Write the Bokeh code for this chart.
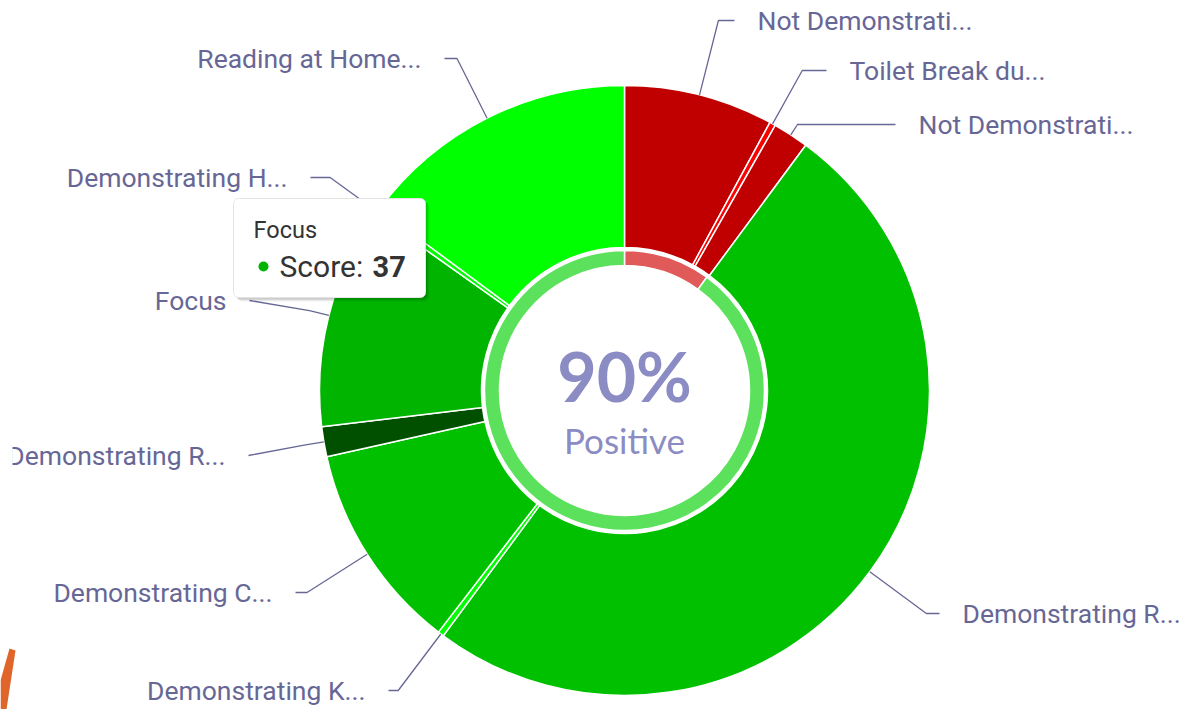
import numpy as np
from bokeh.plotting import figure
from bokeh.models import ColumnDataSource
from bokeh.core.properties import value
from bokeh.embed import file_html
from bokeh.resources import INLINE

# ---------------- data ----------------
categories = ["Not Demonstrati...", "Toilet Break du...", "Not Demonstrati...",
              "Demonstrating R...", "Demonstrating K...", "Demonstrating C...",
              "Demonstrating R...", "Focus", "Demonstrating H...", "Reading at Home..."]
scores = [25, 1, 6, 158, 1, 35, 5, 37, 1, 47]
slice_colors = ["#C00000", "#FF0000", "#C00000", "#00C000", "#00FF00",
                "#00C000", "#005000", "#00B400", "#00FF00", "#00FF00"]
ring_labels = ["Negative", "Positive"]
ring_values = [10, 90]
ring_colors = ["#E05A5A", "#5CE15C"]
center_value = "90%"
center_caption = "Positive"
tooltip_name = "Focus"
tooltip_score = 37

# ---------------- layout ----------------
W, H = 1183, 709
CX, CY = 624, H - 390
R_OUT, R_IN = 305, 143
RING_OUT, RING_IN = 140, 125
label_x_screen = [757, 849, 918, 962, 365, 272, 225, 226, 287, 421]
label_y_screen = [20, 70, 124, 613, 690, 592, 455, 300, 177, 58]
GAP = 23
LABEL_COLOR = "#676796"

p = figure(width=W, height=H, x_range=(0, W), y_range=(0, H),
           output_backend="svg", toolbar_location=None, min_border=0)
p.axis.visible = False
p.grid.visible = False
p.outline_line_color = None
p.background_fill_color = "white"

# outer slices
vals = np.array(scores, dtype=float)
cum = np.cumsum(vals)
total = cum[-1]
th2 = cum / total * 360.0
th1 = np.concatenate([[0.0], th2[:-1]])
src = ColumnDataSource(dict(
    start=np.radians(90 - th2), end=np.radians(90 - th1),
    color=slice_colors, name=categories))
p.annular_wedge(x=CX, y=CY, inner_radius=R_IN, outer_radius=R_OUT,
                start_angle="start", end_angle="end", direction="anticlock",
                fill_color="color", line_color="white", line_width=1.5, source=src)

# inner ring
rv = np.array(ring_values, dtype=float)
rc = np.cumsum(rv)
r2 = rc / rc[-1] * 360.0
r1 = np.concatenate([[0.0], r2[:-1]])
rsrc = ColumnDataSource(dict(start=np.radians(90 - r2), end=np.radians(90 - r1),
                             color=ring_colors, name=ring_labels))
p.annular_wedge(x=CX, y=CY, inner_radius=RING_IN, outer_radius=RING_OUT,
                start_angle="start", end_angle="end", direction="anticlock",
                fill_color="color", line_color="white", line_width=1.5, source=rsrc)

# labels + connectors
mid = np.radians((th1 + th2) / 2)
xs, ys, tx, ty, al = [], [], [], [], []
for i, m in enumerate(mid):
    side = 1 if np.degrees(m) < 180 else -1
    ly = H - label_y_screen[i]
    lx = label_x_screen[i]
    d = np.array([np.sin(m), np.cos(m)])
    e = np.array([CX, CY]) + R_OUT * d
    if abs(d[1]) > 0.3:
        t = (ly - e[1]) / d[1]
        t = min(max(t, 6), 120)
    else:
        t = 20
    b = e + t * d
    end_x = lx - side * GAP
    xs.append([e[0], b[0], end_x])
    ys.append([e[1], b[1], ly])
    tx.append(lx)
    ty.append(ly)
    al.append("left" if side > 0 else "right")
p.multi_line(xs=xs, ys=ys, line_color=LABEL_COLOR, line_width=1.3)
p.text(x=tx, y=ty, text=categories, text_align=al, text_baseline="middle",
       text_font=value("Roboto"), text_font_size="26.5px", text_color=LABEL_COLOR)

# clip strip at left edge (label cut off in the original)
p.quad(left=0, right=12, bottom=H - 475, top=H - 435, fill_color="white", line_color=None)

# center text
p.text(x=[CX], y=[H - 375], text=[center_value], text_align="center",
       text_baseline="middle", text_font=value("Lato"), text_font_style="bold",
       text_font_size="68px", text_color="#8C8CC4")
p.text(x=[CX], y=[H - 439], text=[center_caption], text_align="center",
       text_baseline="middle", text_font=value("Lato"),
       text_font_size="35px", text_color="#8C8CC4")

# tooltip box
def rounded(x0, y0, x1, y1, r):
    px, py = [], []
    corners = [(x1 - r, y1 - r, 0, 90), (x0 + r, y1 - r, 90, 180),
               (x0 + r, y0 + r, 180, 270), (x1 - r, y0 + r, 270, 360)]
    for cx, cy, a0, a1 in corners:
        a = np.radians(np.linspace(a0, a1, 8))
        px += list(cx + r * np.cos(a))
        py += list(cy + r * np.sin(a))
    return px, py

bx0, bx1, by0, by1 = 233, 425, H - 297, H - 198
for off, alp in [(4, 0.05), (3, 0.07), (2, 0.09)]:
    sx, sy = rounded(bx0 + off, by0 - off, bx1 + off, by1 - off, 5)
    p.patch(sx, sy, fill_color="black", fill_alpha=alp, line_color=None)
tx_, ty_ = rounded(bx0, by0, bx1, by1, 5)
p.patch(tx_, ty_, fill_color="white", line_color="#E4E4E4", line_width=1)
p.text(x=[253], y=[H - 229], text=[tooltip_name], text_align="left",
       text_baseline="middle", text_font=value("Roboto"), text_font_size="23.5px",
       text_color="#333333")
p.scatter(x=[263], y=[H - 266], size=10, fill_color="#00B400", line_color=None)
p.text(x=[279], y=[H - 266], text=["Score:"], text_align="left",
       text_baseline="middle", text_font=value("Roboto"), text_font_size="30px",
       text_color="#333333")
p.text(x=[372], y=[H - 266], text=[str(tooltip_score)], text_align="left",
       text_baseline="middle", text_font=value("Roboto"), text_font_style="bold",
       text_font_size="29px", text_color="#333333")

# orange edge artefact (bottom-left)
p.patch([9, 15, 6, 0, 0], [H - 648, H - 650, 0, 0, H - 680],
        fill_color="#E0652A", line_color=None)

open("out.html", "w").write(file_html(p, INLINE))
